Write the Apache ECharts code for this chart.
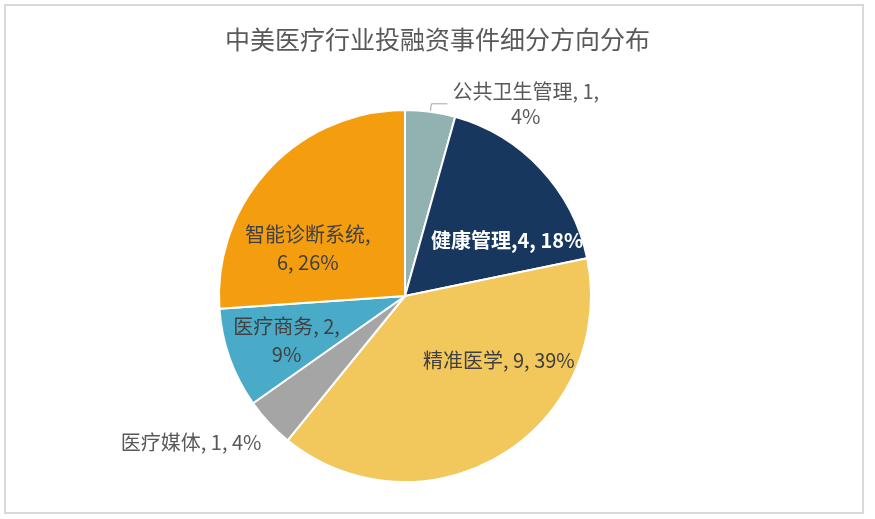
<!DOCTYPE html>
<html>
    <head>
        <meta charset="utf-8">
        <title>中美医疗行业投融资事件细分方向分布</title>
        <script src="https://cdn.jsdelivr.net/npm/echarts@6/dist/echarts.min.js"></script>
        <style>
            html, body { margin: 0; padding: 0; background: #fff; }
            #chart1 { width: 875px; height: 519px; }
        </style>
    </head>
    <body>
        <div id="chart1"></div>
        <script type="text/javascript">
            // 数据
            var categories = ['公共卫生管理', '健康管理', '精准医学', '医疗媒体', '医疗商务', '智能诊断系统'];
            var counts = [1, 4, 9, 1, 2, 6];
            var percents = ['4%', '18%', '39%', '4%', '9%', '26%'];

            var colorArr = ['#92B1B1', '#17375E', '#F2C75B', '#A5A5A5', '#4AABC8', '#F49D0F'];
            // 标签微调 (dx, dy)
            var labelShift = [[0, 0], [32, 10], [44, -18], [12, 6], [-28, 12], [-27, 18]];

            var myChart1 = echarts.init(document.getElementById('chart1'));

            var pieData = categories.map(function (name, i) {
                var item = { name: name, value: counts[i], itemStyle: { color: colorArr[i] } };
                if (i === 0) {
                    item.label = {
                        position: 'outside',
                        formatter: '{c|' + name + ', ' + counts[i] + ',}\n{c|' + percents[i] + '}',
                        rich: { c: { align: 'center', color: '#595959', fontSize: 20, lineHeight: 25, fontFamily: 'Noto Sans CJK SC' } }
                    };
                    item.labelLine = { show: true, length: 8, length2: 16, lineStyle: { color: '#A6A6A6', width: 1 } };
                } else if (i === 3) {
                    item.label = { position: 'outside', color: '#595959', formatter: name + ', ' + counts[i] + ', ' + percents[i] };
                    item.labelLine = { show: false, length: 20, length2: 0 };
                } else if (i === 1) {
                    item.label = { color: '#ffffff', fontWeight: 'bold', formatter: name + ',' + counts[i] + ', ' + percents[i] };
                } else if (i === 2) {
                    item.label = { formatter: name + ', ' + counts[i] + ', ' + percents[i] };
                } else {
                    item.label = { formatter: name + ',\n' + counts[i] + ', ' + percents[i], lineHeight: 28 };
                }
                if (i === 4) {
                    item.label.formatter = name + ', ' + counts[i] + ',\n' + percents[i];
                }
                return item;
            });

            myChart1.setOption({
                backgroundColor: '#ffffff',
                animation: false,
                title: {
                    text: '中美医疗行业投融资事件细分方向分布',
                    left: 'center',
                    top: 22,
                    textStyle: {
                        color: '#595959',
                        fontSize: 25,
                        fontWeight: 'normal',
                        fontFamily: 'Noto Sans CJK SC'
                    }
                },
                graphic: [{
                    type: 'rect',
                    shape: { x: 5, y: 5, width: 858, height: 508 },
                    style: { fill: 'none', stroke: '#D9D9D9', lineWidth: 2 },
                    silent: true
                }],
                series: [{
                    name: '细分方向',
                    type: 'pie',
                    center: [405, 296],
                    radius: 186,
                    startAngle: 90,
                    clockwise: true,
                    itemStyle: {
                        borderColor: '#ffffff',
                        borderWidth: 2
                    },
                    label: {
                        show: true,
                        position: 'inside',
                        color: '#404040',
                        fontSize: 20,
                        fontFamily: 'Noto Sans CJK SC'
                    },
                    labelLayout: function (p) {
                        var s = labelShift[p.dataIndex];
                        return { dx: s[0], dy: s[1] };
                    },
                    emphasis: { disabled: true },
                    data: pieData
                }]
            });
        </script>
    </body>
</html>
